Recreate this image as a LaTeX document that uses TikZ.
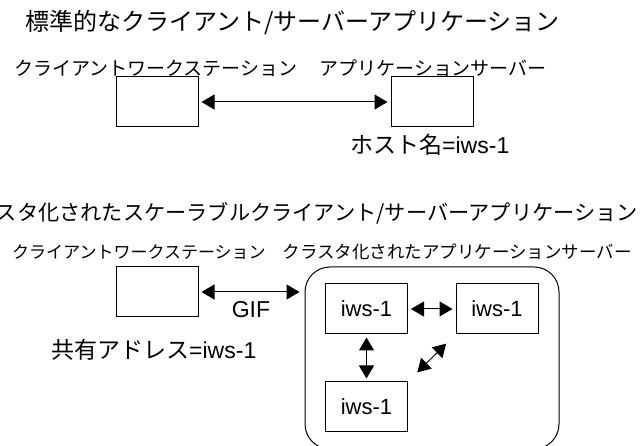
\documentclass[tikz,border=0pt]{standalone}
\usepackage{fontspec}
\setmainfont{Liberation Sans}
\newfontfamily\jpfont{Noto Sans CJK JP}
\usetikzlibrary{arrows.meta}

\tikzset{
    box/.style={draw, line width=1pt, minimum width=82pt, minimum height=50pt, inner sep=0pt, font=\fontsize{22pt}{22pt}\selectfont},
    link/.style={<->, line width=1pt, shorten <=3pt, shorten >=3pt},
    heading/.style={inner sep=0pt, font={\jpfont\fontsize{24pt}{24pt}\selectfont}},
    rowtext/.style={inner sep=0pt, font={\jpfont\fontsize{19pt}{19pt}\selectfont}},
    note/.style={inner sep=0pt, font=\fontsize{23pt}{23pt}\selectfont},
}

\begin{document}
\begin{tikzpicture}[x=1pt,y=-1pt,>={Triangle[length=13pt,width=15pt]}]

    \useasboundingbox (0,0) rectangle (641,446);

    % standard client/server
    \node[heading, anchor=west] (title1) at (25,23) {標準的なクライアント/サーバーアプリケーション};
    \node[rowtext, anchor=west] (client1lbl) at (14,68) {クライアントワークステーション};
    \node[rowtext, anchor=east] (server1lbl) at (547,68) {アプリケーションサーバー};

    \node[box] (client1) at (157,102) {};
    \node[box] (server1) at (432,102) {};
    \draw[link] (client1) -- (server1);

    \node[note, anchor=west] (host) at (350,145) {{\jpfont ホスト名}=iws-1};

    % clustered client/server
    \node[heading, anchor=east, font={\jpfont\fontsize{21.2pt}{21.2pt}\selectfont}] (title2) at (638,213) {スタ化されたスケーラブルクライアント/サーバーアプリケーション};
    \node[rowtext, anchor=west, font={\jpfont\fontsize{17pt}{17pt}\selectfont}] (client2lbl) at (12,252) {クライアントワークステーション};
    \node[rowtext, anchor=east, font={\jpfont\fontsize{17.5pt}{17.5pt}\selectfont}] (server2lbl) at (632,252) {クラスタ化されたアプリケーションサーバー};

    \node[box] (client2) at (157,292) {};
    \node[draw, line width=1pt, rounded corners=25pt, minimum width=254pt, minimum height=182pt] (cluster) at (432,358) {};
    \draw[link, shorten >=5pt] (client2.east) -- (client2.east -| cluster.west);
    \node[note] (gif) at (251,310) {GIF};
    \node[note, anchor=west] (shared) at (51,350) {{\jpfont 共有アドレス}=iws-1};

    \node[box] (node1) at (366.5,309) {iws-1};
    \node[box] (node2) at (497,309) {iws-1};
    \node[box] (node3) at (366.5,407) {iws-1};
    \draw[link] (node1) -- (node2);
    \draw[link] (node1) -- (node3);
    \draw[link, shorten <=13pt, shorten >=13pt] (node3.north east) -- (node2.south west);

\end{tikzpicture}
\end{document}
